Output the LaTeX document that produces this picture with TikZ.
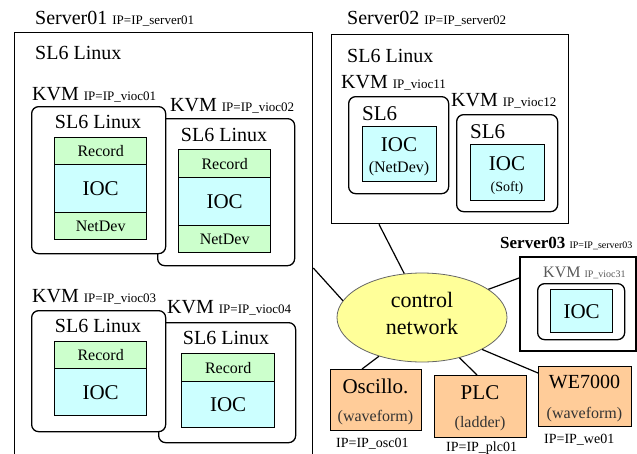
\documentclass[tikz,border=0pt]{standalone}
\usepackage{fontspec}
\setmainfont{Liberation Serif}
\usetikzlibrary{shapes.geometric}
\definecolor{recg}{HTML}{CCFFCC}
\definecolor{iocc}{HTML}{CCFFFF}
\definecolor{nety}{HTML}{FFFF99}
\definecolor{devo}{HTML}{FFCC99}
\newcommand\fsz[1]{\fontsize{#1}{#1}\selectfont}
\tikzset{
  srvbox/.style={draw, line width=1.3pt, fill=white, anchor=north west, inner sep=0pt},
  vmbox/.style={draw, line width=1.3pt, rounded corners=7pt, fill=white, anchor=north west, inner sep=0pt},
  recbox/.style={draw, line width=1.3pt, fill=recg, anchor=north west, inner sep=0pt, font=\fsz{16}},
  iocbox/.style={draw, line width=1.3pt, fill=iocc, anchor=north west, inner sep=0pt, font=\fsz{21}},
  devbox/.style={draw, line width=1.3pt, fill=devo, anchor=north west, inner sep=0pt},
  lbl/.style={anchor=base west, inner sep=0pt},
  ctr/.style={anchor=base, inner sep=0pt},
  link/.style={line width=1.2pt},
}
\begin{document}
\begin{tikzpicture}[x=1pt,y=-1pt]
\useasboundingbox (0,0) rectangle (637,453);
\clip (0,0) rectangle (637,453);
\fill[white] (0,0) rectangle (637,453);

% ---------------- Server01 ----------------
\node[srvbox, minimum width=298pt, minimum height=440pt] (srv1) at (14,32) {};
\node[lbl] (srv1t) at (35,24) {\fsz{20}Server01 \fsz{13}IP=IP\_server01};
\node[lbl] (srv1os) at (35,59) {\fsz{20}SL6 Linux};

% VM2 (behind VM1)
\node[vmbox, minimum width=137pt, minimum height=147pt] (vm2) at (157,118) {};
\node[lbl] (vm2t) at (170,111) {\fsz{20}KVM \fsz{13}IP=IP\_vioc02};
\node[ctr] (vm2os) at (224,141) {\fsz{20}SL6 Linux};
\node[recbox, minimum width=92pt, minimum height=28pt] (rec2) at (178,149) {Record};
\node[iocbox, minimum width=92pt, minimum height=48pt] (ioc2) at (178,177) {IOC};
\node[recbox, minimum width=92pt, minimum height=27pt] (nd2) at (178,225) {NetDev};

% VM1
\node[vmbox, minimum width=134pt, minimum height=147pt] (vm1) at (31,106) {};
\node[lbl] (vm1t) at (32,100) {\fsz{20}KVM \fsz{13}IP=IP\_vioc01};
\node[ctr] (vm1os) at (98,128) {\fsz{20}SL6 Linux};
\node[recbox, minimum width=92pt, minimum height=27pt] (rec1) at (54,137) {Record};
\node[iocbox, minimum width=92pt, minimum height=48pt] (ioc1) at (54,164) {IOC};
\node[recbox, minimum width=92pt, minimum height=27pt] (nd1) at (54,212) {NetDev};

% VM4 (behind VM3)
\node[vmbox, minimum width=137pt, minimum height=120pt] (vm4) at (158,322) {};
\node[lbl] (vm4t) at (167,313) {\fsz{20}KVM \fsz{13}IP=IP\_vioc04};
\node[ctr] (vm4os) at (226,344) {\fsz{20}SL6 Linux};
\node[recbox, minimum width=93pt, minimum height=28pt] (rec4) at (181,353) {Record};
\node[iocbox, minimum width=93pt, minimum height=46pt] (ioc4) at (181,381) {IOC};

% VM3
\node[vmbox, minimum width=134pt, minimum height=121pt] (vm3) at (31,310) {};
\node[lbl] (vm3t) at (32,302) {\fsz{20}KVM \fsz{13}IP=IP\_vioc03};
\node[ctr] (vm3os) at (98,332) {\fsz{20}SL6 Linux};
\node[recbox, minimum width=92pt, minimum height=27pt] (rec3) at (54,341) {Record};
\node[iocbox, minimum width=92pt, minimum height=47pt] (ioc3) at (54,368) {IOC};

% ---------------- Server02 ----------------
\node[srvbox, minimum width=237pt, minimum height=189pt] (srv2) at (331,34) {};
\node[lbl] (srv2t) at (347,24) {\fsz{20}Server02 \fsz{13}IP=IP\_server02};
\node[lbl] (srv2os) at (347,62) {\fsz{20}SL6 Linux};

\node[lbl] (vm11t) at (341,88) {\fsz{20}KVM \fsz{13}IP\_vioc11};
\node[vmbox, minimum width=100pt, minimum height=97pt] (vm11) at (348,96) {};
\node[lbl] (vm11os) at (362,120) {\fsz{21}SL6};
\node[iocbox, minimum width=74pt, minimum height=55pt] (ioc11) at (362,126) {};
\node[ctr] (ioc11a) at (399,151) {\fsz{21}IOC};
\node[ctr] (ioc11b) at (399,172) {\fsz{16}(NetDev)};

\node[lbl] (vm12t) at (451,106) {\fsz{20}KVM \fsz{13}IP\_vioc12};
\node[vmbox, minimum width=101pt, minimum height=97pt] (vm12) at (456,114) {};
\node[lbl] (vm12os) at (470,138) {\fsz{21}SL6};
\node[iocbox, minimum width=74pt, minimum height=56pt] (ioc12) at (470,144) {};
\node[ctr] (ioc12a) at (507,170) {\fsz{21}IOC};
\node[ctr] (ioc12b) at (507,191) {\fsz{14}(Soft)};

% ---------------- Server03 ----------------
\node[srvbox, line width=1.6pt, minimum width=116pt, minimum height=94pt] (srv3) at (519,256) {};
\node[lbl] (srv3t) at (500,248) {\fsz{17}\bfseries Server03 \fsz{10}\mdseries IP=IP\_server03};
\node[lbl, text=black!65] (vm31t) at (543,277) {\fsz{16}KVM \fsz{10}IP\_vioc31};
\node[vmbox, minimum width=87pt, minimum height=56pt] (vm31) at (537,283) {};
\node[iocbox, minimum width=62pt, minimum height=43pt] (ioc31) at (550,289) {IOC};

% ---------------- network ----------------
\node[ellipse, draw=black!60, line width=0.8pt, fill=nety, minimum width=170pt, minimum height=89pt, inner sep=0pt] (net) at (422,317.5) {};
\node[ctr] (net1) at (422,307) {\fsz{22}control};
\node[ctr] (net2) at (422,334) {\fsz{22}network};

% ---------------- devices ----------------
\node[devbox, minimum width=91pt, minimum height=61pt] (osc) at (330,369) {};
\node[ctr] (osc1) at (375.5,393) {\fsz{21}Oscillo.};
\node[ctr, text=black!80] (osc2) at (375.5,421) {\fsz{16}(waveform)};
\node[lbl] (oscip) at (336,447) {\fsz{14}IP=IP\_osc01};

\node[devbox, minimum width=92pt, minimum height=62pt] (plc) at (434,375) {};
\node[ctr] (plc1) at (480,399) {\fsz{21}PLC};
\node[ctr, text=black!80] (plc2) at (480,427) {\fsz{16}(ladder)};
\node[lbl] (plcip) at (446,451) {\fsz{14}IP=IP\_plc01};

\node[devbox, minimum width=93pt, minimum height=60pt] (we) at (538,366) {};
\node[ctr] (we1) at (584.5,388) {\fsz{20}WE7000};
\node[ctr, text=black!80] (we2) at (584.5,418) {\fsz{16}(waveform)};
\node[lbl] (weip) at (544,443) {\fsz{14}IP=IP\_we01};

% ---------------- links ----------------
\draw[link] (net.168) -- ([yshift=-236pt]srv1.north east);
\draw[link] (net.112) -- ([xshift=48pt]srv2.south west);
\draw[link] (net.23) -- ([yshift=-22pt]srv3.north west);
\draw[link] (net.222) -- ([xshift=32pt]osc.north west);
\draw[link] (net.313) -- ([xshift=43pt]plc.north west);
\draw[link] (net.332) -- ([yshift=-7pt]we.north west);
\end{tikzpicture}
\end{document}
